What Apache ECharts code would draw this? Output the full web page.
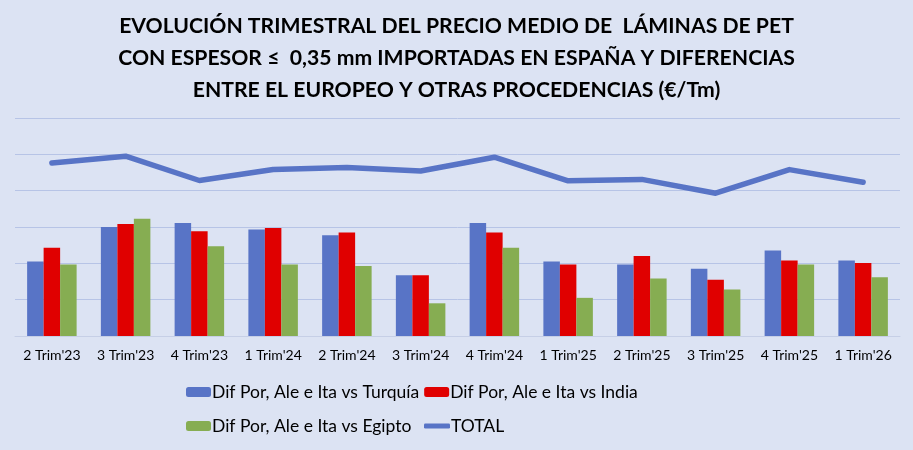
<!DOCTYPE html>
<html>
<head>
<meta charset="utf-8">
<script src="https://cdn.jsdelivr.net/npm/echarts@6/dist/echarts.min.js"></script>
<style>
  html, body { margin: 0; padding: 0; background: #dce3f3; }
  #chart { width: 913px; height: 450px; }
</style>
</head>
<body>
<div id="chart"></div>
<script>
var categories = ["2 Trim'23", "3 Trim'23", "4 Trim'23", "1 Trim'24", "2 Trim'24", "3 Trim'24",
                  "4 Trim'24", "1 Trim'25", "2 Trim'25", "3 Trim'25", "4 Trim'25", "1 Trim'26"];
var turquia = [205, 300, 311, 293, 277, 167, 311, 205, 197, 185, 235, 208];
var india   = [243, 308, 288, 297, 285, 167, 285, 197, 220, 155, 208, 201];
var egipto  = [197, 323, 247, 197, 193,  90, 243, 105, 158, 128, 197, 162];
var total   = [476, 495, 428, 458, 464, 454, 492, 427, 431, 393, 458, 423];

var titleLines = [
    "EVOLUCIÓN TRIMESTRAL DEL PRECIO MEDIO DE  LÁMINAS DE PET",
    "CON ESPESOR ≤  0,35 mm IMPORTADAS EN ESPAÑA Y DIFERENCIAS",
    "ENTRE EL EUROPEO Y OTRAS PROCEDENCIAS (€/Tm)"
];

var FONT = 'Lato';
var legendText = { fontFamily: FONT, fontSize: 17.5, color: '#000', padding: [0, 0, 0, -4] };
var myChart = echarts.init(document.getElementById('chart'));

var option = {
    backgroundColor: '#dce3f3',
    animation: false,
    textStyle: { fontFamily: FONT },
    title: {
        text: titleLines.join('\n'),
        left: 'center',
        top: 5,
        textStyle: {
            fontFamily: FONT,
            fontWeight: 'bold',
            fontSize: 21.2,
            lineHeight: 32,
            color: '#000'
        }
    },
    legend: [{
        data: ['Dif Por, Ale e Ita vs Turquía', 'Dif Por, Ale e Ita vs India'],
        left: 181,
        top: 378,
        itemWidth: 25,
        itemHeight: 10,
        itemGap: 5,
        textStyle: legendText
    }, {
        data: ['Dif Por, Ale e Ita vs Egipto'],
        left: 181,
        top: 412,
        itemWidth: 25,
        itemHeight: 10,
        textStyle: legendText
    }, {
        data: [{ name: 'TOTAL', icon: 'roundRect' }],
        left: 419,
        top: 412,
        itemWidth: 26,
        itemHeight: 5,
        textStyle: legendText
    }],
    grid: {
        left: 15,
        right: 13,
        top: 118,
        bottom: 114,
        containLabel: false
    },
    xAxis: {
        type: 'category',
        data: categories,
        axisLine: { show: true, lineStyle: { color: '#c6cfe6', width: 1 } },
        axisTick: { show: false },
        axisLabel: { interval: 0, fontFamily: FONT, fontSize: 14, color: '#000', margin: 12 }
    },
    yAxis: {
        type: 'value',
        min: 0,
        max: 600,
        interval: 100,
        axisLabel: { show: false },
        axisLine: { show: false },
        axisTick: { show: false },
        splitLine: { lineStyle: { color: '#b7c4e6', width: 1 } }
    },
    series: [{
        name: 'Dif Por, Ale e Ita vs Turquía',
        type: 'bar',
        data: turquia,
        barWidth: 16.5,
        barGap: '0%',
        itemStyle: { color: '#5874c6' }
    }, {
        name: 'Dif Por, Ale e Ita vs India',
        type: 'bar',
        data: india,
        barWidth: 16.5,
        barGap: '0%',
        itemStyle: { color: '#e00000' }
    }, {
        name: 'Dif Por, Ale e Ita vs Egipto',
        type: 'bar',
        data: egipto,
        barWidth: 16.5,
        barGap: '0%',
        itemStyle: { color: '#86ad52' }
    }, {
        name: 'TOTAL',
        type: 'line',
        data: total,
        symbol: 'none',
        lineStyle: { color: '#5874c6', width: 5.5, cap: 'round', join: 'round' },
        itemStyle: { color: '#5874c6' }
    }]
};

myChart.setOption(option);
</script>
</body>
</html>
